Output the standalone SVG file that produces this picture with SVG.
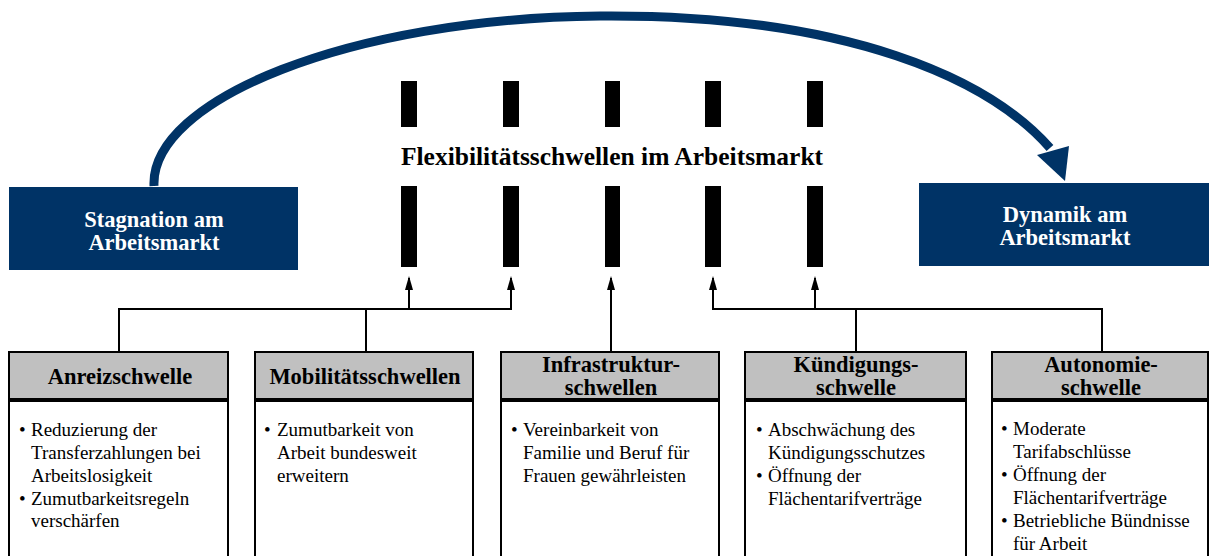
<svg xmlns="http://www.w3.org/2000/svg" width="1209" height="556" viewBox="0 0 1209 556">
<style>
.bar{fill:#000}
.blue{fill:#003366}
.wt{font-family:"Liberation Serif",serif;font-weight:bold;font-size:22.5px;fill:#fff;text-anchor:middle}
.title{font-family:"Liberation Serif",serif;font-weight:bold;font-size:25.5px;fill:#000;text-anchor:middle}
.hd{fill:#c0c0c0;stroke:#000;stroke-width:2}
.bd{fill:#fff;stroke:#000;stroke-width:2}
.ht{font-family:"Liberation Serif",serif;font-weight:bold;font-size:22.5px;fill:#000;text-anchor:middle}
.tx{font-family:"Liberation Serif",serif;font-size:19px;fill:#000}
.conn{fill:none;stroke:#000;stroke-width:2}
</style>
<g id="connectors">
<path d="M154,186 C 150,100 350,18 600,16 C 850,14 990,80 1050,148" fill="none" stroke="#003366" stroke-width="9"/>
<polygon points="1037,155 1069,146 1065,181" fill="#003366"/>
<path class="conn" d="M119,352 V309 H511 V278"/>
<path class="conn" d="M366,352 V309"/>
<path class="conn" d="M409,309 V278"/>
<path class="conn" d="M611,352 V278"/>
<path class="conn" d="M1102,352 V309 H713 V278"/>
<path class="conn" d="M856,352 V309"/>
<path class="conn" d="M815,309 V278"/>
<polygon points="405,290 409,276 413,290"/>
<polygon points="507,290 511,276 515,290"/>
<polygon points="607,290 611,276 615,290"/>
<polygon points="709,290 713,276 717,290"/>
<polygon points="811,290 815,276 819,290"/>
</g>
<g id="stagnation">
<rect class="blue" x="9" y="187" width="289" height="83"/>
<text class="wt" x="154" y="227">Stagnation am</text>
<text class="wt" x="154" y="250">Arbeitsmarkt</text>
</g>
<g id="dynamik">
<rect class="blue" x="919" y="183" width="290" height="83"/>
<text class="wt" x="1065" y="222">Dynamik am</text>
<text class="wt" x="1065" y="245">Arbeitsmarkt</text>
</g>
<g id="flexibilitaet">
<rect class="bar" x="401" y="81" width="16" height="46"/>
<rect class="bar" x="503" y="81" width="16" height="46"/>
<rect class="bar" x="605" y="81" width="15" height="46"/>
<rect class="bar" x="705" y="81" width="16" height="46"/>
<rect class="bar" x="807" y="81" width="16" height="46"/>
<rect class="bar" x="401" y="186" width="16" height="81"/>
<rect class="bar" x="503" y="186" width="16" height="81"/>
<rect class="bar" x="605" y="186" width="15" height="81"/>
<rect class="bar" x="705" y="186" width="16" height="81"/>
<rect class="bar" x="807" y="186" width="16" height="81"/>
<text class="title" x="612" y="165">Flexibilitätsschwellen im Arbeitsmarkt</text>
</g>
<g id="anreiz">
<rect class="hd" x="9" y="352" width="219" height="47"/>
<rect class="bd" x="9" y="401" width="219" height="160"/>
<text class="ht" x="120" y="384">Anreizschwelle</text>
<text class="tx" x="19" y="436">•</text>
<text class="tx" x="31" y="436">Reduzierung der</text>
<text class="tx" x="31" y="459">Transferzahlungen bei</text>
<text class="tx" x="31" y="482">Arbeitslosigkeit</text>
<text class="tx" x="19" y="505">•</text>
<text class="tx" x="31" y="505">Zumutbarkeitsregeln</text>
<text class="tx" x="31" y="527">verschärfen</text>
</g>
<g id="mobilitaet">
<rect class="hd" x="255" y="352" width="218" height="47"/>
<rect class="bd" x="255" y="401" width="218" height="160"/>
<text class="ht" x="365" y="384">Mobilitätsschwellen</text>
<text class="tx" x="264" y="436">•</text>
<text class="tx" x="277" y="436">Zumutbarkeit von</text>
<text class="tx" x="277" y="459">Arbeit bundesweit</text>
<text class="tx" x="277" y="482">erweitern</text>
</g>
<g id="infrastruktur">
<rect class="hd" x="501" y="352" width="218" height="47"/>
<rect class="bd" x="501" y="401" width="218" height="160"/>
<text class="ht" x="611" y="372">Infrastruktur-</text>
<text class="ht" x="611" y="395">schwellen</text>
<text class="tx" x="511" y="436">•</text>
<text class="tx" x="523" y="436">Vereinbarkeit von</text>
<text class="tx" x="523" y="459">Familie und Beruf für</text>
<text class="tx" x="523" y="482">Frauen gewährleisten</text>
</g>
<g id="kuendigung">
<rect class="hd" x="745" y="352" width="221" height="47"/>
<rect class="bd" x="745" y="401" width="221" height="160"/>
<text class="ht" x="856" y="372">Kündigungs-</text>
<text class="ht" x="856" y="395">schwelle</text>
<text class="tx" x="756" y="436">•</text>
<text class="tx" x="768" y="436">Abschwächung des</text>
<text class="tx" x="768" y="459">Kündigungsschutzes</text>
<text class="tx" x="756" y="482">•</text>
<text class="tx" x="768" y="482">Öffnung der</text>
<text class="tx" x="768" y="505">Flächentarifverträge</text>
</g>
<g id="autonomie">
<rect class="hd" x="992" y="352" width="216" height="47"/>
<rect class="bd" x="992" y="401" width="216" height="160"/>
<text class="ht" x="1101" y="372">Autonomie-</text>
<text class="ht" x="1101" y="395">schwelle</text>
<text class="tx" x="1001" y="435">•</text>
<text class="tx" x="1013" y="435">Moderate</text>
<text class="tx" x="1013" y="458">Tarifabschlüsse</text>
<text class="tx" x="1001" y="481">•</text>
<text class="tx" x="1013" y="481">Öffnung der</text>
<text class="tx" x="1013" y="504">Flächentarifverträge</text>
<text class="tx" x="1001" y="527">•</text>
<text class="tx" x="1013" y="527">Betriebliche Bündnisse</text>
<text class="tx" x="1013" y="550">für Arbeit</text>
</g>
</svg>
